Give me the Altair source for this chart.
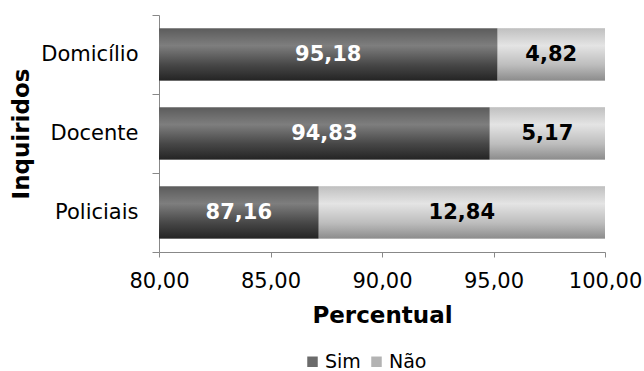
import altair as alt
import pandas as pd

# Survey answers by group of respondents (percent)
inquiridos = ["Domicílio", "Docente", "Policiais"]
sim = [95.18, 94.83, 87.16]
nao = [4.82, 5.17, 12.84]
respostas = ["Sim", "Não"]
ticks_x = [80, 85, 90, 95, 100]

X_MIN, X_MAX = 80, 100
FONT = "DejaVu Sans"
AXIS_GREY = "#888888"

rows = []
for grupo, s, n in zip(inquiridos, sim, nao):
    rows.append({"inquirido": grupo, "resposta": "Sim", "valor": s})
    rows.append({"inquirido": grupo, "resposta": "Não", "valor": n})
df = pd.DataFrame(rows)


def grad(stops):
    return alt.LinearGradient(
        gradient="linear", x1=0, y1=0, x2=0, y2=1,
        stops=[alt.GradientStop(color=c, offset=o) for o, c in stops],
    )


grad_sim = grad([(0, "#5c5c5c"), (0.33, "#7e7e7e"), (0.7, "#474747"), (1, "#242424")])
grad_nao = grad([(0, "#c0c0c0"), (0.33, "#e4e4e4"), (0.7, "#bdbdbd"), (1, "#8c8c8c")])

base = (
    alt.Chart(df)
    .transform_calculate(ordem="datum.resposta == 'Sim' ? 0 : 1")
    .transform_stack(
        stack="valor", groupby=["inquirido"], as_=["ini", "fim"],
        sort=[alt.SortField("ordem", order="ascending")],
    )
    .transform_calculate(
        meio=f"(max(datum.ini, {X_MIN}) + datum.fim) / 2",
        rotulo="replace(format(datum.valor, '.2f'), '.', ',')",
    )
)

# band scale used by the bars (no axis of its own)
y_bars = alt.Y(
    "inquirido:N", sort=inquiridos, axis=None,
    scale=alt.Scale(paddingInner=0.34, paddingOuter=0.17),
)

x_scale = alt.Scale(domain=[X_MIN, X_MAX], nice=False, zero=False)
x_axis = alt.Axis(
    title="Percentual",
    titleFont=FONT, titleFontSize=23, titleFontWeight="bold", titleColor="#000",
    titleAlign="center", titleBaseline="alphabetic", titleX=223, titleY=70,
    values=ticks_x,
    labelExpr="replace(format(datum.value, '.2f'), '.', ',')",
    labelFont=FONT, labelFontSize=21, labelColor="#000",
    labelBaseline="alphabetic", labelPadding=30,
    labelFlush=False, labelOverlap=False,
    tickSize=5, tickColor=AXIS_GREY, domainColor=AXIS_GREY, grid=False,
)

# category axis: unpadded bands so the ticks fall between the groups
eixo_y = base.mark_bar(opacity=0).encode(
    x=alt.X("ini:Q", scale=x_scale, axis=x_axis),
    x2="fim:Q",
    y=alt.Y(
        "inquirido:N",
        sort=inquiridos,
        scale=alt.Scale(paddingInner=0, paddingOuter=0),
        axis=alt.Axis(
            title="Inquiridos",
            titleFont=FONT, titleFontSize=23, titleFontWeight="bold", titleColor="#000",
            titleAngle=-90, titleAlign="center", titleBaseline="middle",
            titleX=-138, titleY=118.5,
            labelFont=FONT, labelFontSize=21, labelColor="#000", labelPadding=14,
            tickBand="extent", tickSize=7, tickColor=AXIS_GREY, domainColor=AXIS_GREY,
        ),
    ),
)

# flat bars carrying the legend
legenda = base.mark_bar(clip=True).encode(
    x=alt.X("ini:Q", scale=x_scale),
    x2="fim:Q",
    y=y_bars,
    color=alt.Color(
        "resposta:N",
        scale=alt.Scale(domain=respostas, range=["#6b6b6b", "#b3b3b3"]),
        legend=alt.Legend(
            title=None, orient="none", direction="horizontal",
            legendX=144, legendY=337,
            symbolType="square", symbolSize=110, symbolStrokeWidth=0,
            labelFont=FONT, labelFontSize=19, labelColor="#000",
            labelOffset=3, columnPadding=6,
        ),
    ),
)


# shaded bars drawn on top
def sombreado(resp, g):
    return base.transform_filter(f"datum.resposta == '{resp}'").mark_bar(
        clip=True, color=g
    ).encode(x="ini:Q", x2="fim:Q", y=y_bars)


rotulos = base.mark_text(
    font=FONT, fontSize=21, fontWeight="bold", baseline="middle", align="center"
).encode(
    x="meio:Q",
    y=y_bars,
    text="rotulo:N",
    color=alt.condition("datum.resposta == 'Sim'", alt.value("#ffffff"), alt.value("#000000")),
)

chart = (
    alt.layer(eixo_y, legenda, sombreado("Sim", grad_sim), sombreado("Não", grad_nao), rotulos)
    .resolve_scale(y="independent")
    .properties(
        width=446, height=237,
        autosize=alt.AutoSizeParams(type="none"),
        padding={"left": 159, "top": 15, "right": 39, "bottom": 119},
        background="#ffffff",
    )
    .configure_view(stroke=None)
)

chart.save("out.html", embed_options={"renderer": "svg", "actions": False})
